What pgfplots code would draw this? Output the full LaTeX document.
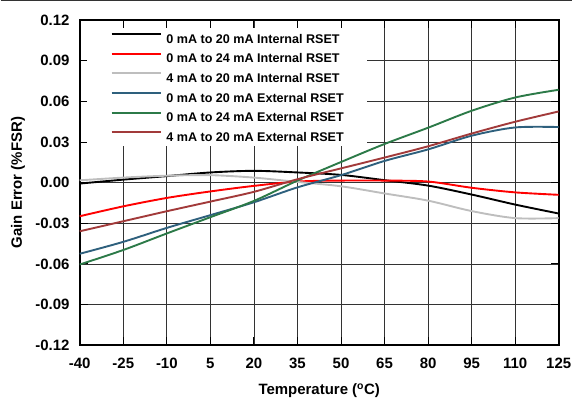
\documentclass[border=0pt]{standalone}
\usepackage{pgfplots}
\pgfplotsset{compat=1.18}
\usepackage{fontspec}
\setmainfont{Liberation Sans}
\definecolor{cBlue}{RGB}{46,96,125}
\definecolor{cGreen}{RGB}{44,122,72}
\definecolor{cBrown}{RGB}{162,58,58}
\definecolor{cGray}{RGB}{190,190,190}
\begin{document}
\begin{tikzpicture}
\begin{axis}[
  width=480bp, height=326bp, scale only axis,
  xmin=-40, xmax=125, ymin=-0.12, ymax=0.12,
  xtick={-40,-25,-10,5,20,35,50,65,80,95,110,125},
  ytick={-0.12,-0.09,-0.06,-0.03,0,0.03,0.06,0.09,0.12},
  grid=major,
  grid style={black!80, line width=0.8bp},
  axis line style={black, line width=2.2bp},
  major tick length=8bp,
  tick style={black, line width=0.9bp},
  /pgf/number format/assume math mode=true,
  tick label style={font=\bfseries\fontsize{15bp}{18bp}\selectfont},
  yticklabel style={/pgf/number format/fixed, /pgf/number format/fixed zerofill, /pgf/number format/precision=2, inner sep=0pt, xshift=-10bp},
  xticklabel style={inner sep=0pt, yshift=-13bp},
  scaled y ticks=false,
  xlabel={Temperature (\textsuperscript{o}C)},
  ylabel={Gain Error (\%FSR)},
  every axis x label/.style={at={(axis description cs:0.5,-0.1518)}, anchor=base, font=\bfseries\fontsize{15bp}{18bp}\selectfont},
  every axis y label/.style={at={(axis description cs:-0.1208,0.5)}, anchor=base, rotate=90, font=\bfseries\fontsize{15bp}{18bp}\selectfont},
  legend image code/.code={\draw[#1] (0bp,4.6bp) -- (50bp,4.6bp);},
  legend cell align=left,
  legend style={at={(0,1)}, anchor=north west, xshift=7.2bp, yshift=-8.1bp,
    draw=none, fill=white, inner xsep=23.5bp, inner ysep=5bp,
    font=\bfseries\fontsize{12.6bp}{14bp}\selectfont,
    nodes={inner sep=0pt, text height=9.2bp, text depth=0pt},
    row sep=9.5bp,
    /tikz/every odd column/.append style={column sep=4bp}},
  every axis plot/.append style={line width=1.9bp, smooth, no markers},
]
\addplot[black] coordinates {(-40,-0.0007) (-25,0.0022) (-10,0.0048) (5,0.0075) (20,0.0087) (35,0.0075) (50,0.0057) (65,0.0018) (80,-0.0022) (95,-0.0088) (110,-0.0162) (125,-0.0228)};
\addlegendentry{0 mA to 20 mA Internal RSET}
\addplot[red] coordinates {(-40,-0.0248) (-25,-0.0175) (-10,-0.0113) (5,-0.0065) (20,-0.0024) (35,0.0008) (50,0.0015) (65,0.0015) (80,0.0008) (95,-0.0038) (110,-0.0072) (125,-0.009)};
\addlegendentry{0 mA to 24 mA Internal RSET}
\addplot[cGray] coordinates {(-40,0.0017) (-25,0.0037) (-10,0.0051) (5,0.0055) (20,0.0037) (35,0.0005) (50,-0.0027) (65,-0.008) (80,-0.0133) (95,-0.021) (110,-0.0262) (125,-0.0262)};
\addlegendentry{4 mA to 20 mA Internal RSET}
\addplot[cBlue] coordinates {(-40,-0.0525) (-25,-0.0437) (-10,-0.0334) (5,-0.024) (20,-0.0145) (35,-0.0035) (50,0.0055) (65,0.016) (80,0.0245) (95,0.0346) (110,0.0407) (125,0.041)};
\addlegendentry{0 mA to 20 mA External RSET}
\addplot[cGreen] coordinates {(-40,-0.0604) (-25,-0.0497) (-10,-0.0375) (5,-0.0255) (20,-0.0135) (35,0.0015) (50,0.0152) (65,0.0285) (80,0.0405) (95,0.053) (110,0.0628) (125,0.0685)};
\addlegendentry{0 mA to 24 mA External RSET}
\addplot[cBrown] coordinates {(-40,-0.0359) (-25,-0.0285) (-10,-0.0211) (5,-0.014) (20,-0.0068) (35,0.0025) (50,0.0105) (65,0.0185) (80,0.0268) (95,0.0362) (110,0.0449) (125,0.0525)};
\addlegendentry{4 mA to 20 mA External RSET}
\coordinate (SW) at (rel axis cs:0,0);
\coordinate (NE) at (rel axis cs:1,1);
\coordinate (TL) at (rel axis cs:0,1);
\end{axis}
\pgfresetboundingbox
\path ([xshift=-79.3bp,yshift=-52bp]SW) rectangle ([xshift=13.7bp,yshift=20bp]NE);
\draw[line width=1.2bp, black!80] ([xshift=-79.3bp,yshift=19.4bp]TL) -- ++(573bp,0);
\end{tikzpicture}
\end{document}
